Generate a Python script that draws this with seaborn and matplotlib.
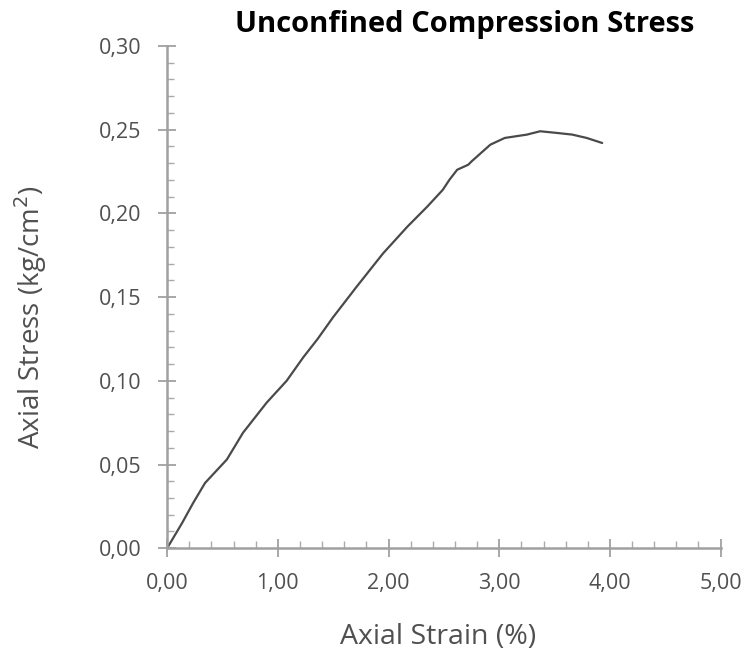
import numpy as np
import pandas as pd
import seaborn as sns
import matplotlib.pyplot as plt
from matplotlib.ticker import MultipleLocator, FuncFormatter

# Data
strain = [0.00, 0.135, 0.235, 0.343, 0.54, 0.686, 0.90, 1.08, 1.23, 1.36, 1.50,
          1.71, 1.95, 2.17, 2.35, 2.49, 2.55, 2.62, 2.72, 2.75, 2.92, 3.05, 3.25,
          3.37, 3.52, 3.66, 3.79, 3.93]
stress = [0.000, 0.015, 0.027, 0.039, 0.053, 0.069, 0.087, 0.100, 0.114, 0.125, 0.138,
          0.156, 0.176, 0.192, 0.204, 0.214, 0.220, 0.226, 0.229, 0.231, 0.241, 0.245, 0.247,
          0.249, 0.248, 0.247, 0.245, 0.242]

df = pd.DataFrame({"Axial Strain (%)": strain, "Axial Stress": stress})

sns.set_style("white")
plt.rcParams['font.family'] = ['Open Sans', 'DejaVu Sans']

fig = plt.figure(figsize=(7.46, 6.55), dpi=100)
ax = fig.add_axes([0.224, 0.163, 0.742, 0.767])

sns.lineplot(data=df, x="Axial Strain (%)", y="Axial Stress", ax=ax,
             color="#4a4a4a", linewidth=1.6, sort=False)

ax.set_xlim(0, 5)
ax.set_ylim(0, 0.30)
ax.xaxis.set_major_locator(MultipleLocator(1))
ax.xaxis.set_minor_locator(MultipleLocator(0.2))
ax.yaxis.set_major_locator(MultipleLocator(0.05))
ax.yaxis.set_minor_locator(MultipleLocator(0.01))

comma = lambda fmt: FuncFormatter(lambda v, p: format(v, fmt).replace('.', ','))
ax.xaxis.set_major_formatter(comma('.2f'))
ax.yaxis.set_major_formatter(comma('.2f'))

ax.tick_params(which='major', direction='inout', length=13, width=1.3,
               color='#a0a0a0', labelcolor='#505050', labelsize=15.5)
ax.tick_params(which='minor', direction='in', length=5, width=1,
               color='#aaaaaa')
ax.tick_params(axis='x', which='major', pad=11)
ax.tick_params(axis='y', which='major', pad=12)
ax.tick_params(axis='x', which='both', bottom=True)
ax.tick_params(axis='y', which='both', left=True)

for s in ['top', 'right']:
    ax.spines[s].set_visible(False)
for s in ['left', 'bottom']:
    ax.spines[s].set_color('#a0a0a0')
    ax.spines[s].set_linewidth(1.8)

ax.set_xlabel("Axial Strain (%)", fontsize=20.5, color='#505050', va='center')
ax.set_ylabel("Axial Stress (kg/cm$^2$)", fontsize=20, color='#505050', va='center')
ax.xaxis.set_label_coords(0.489, -0.176)
ax.yaxis.set_label_coords(-0.247, 0.46)

fig.text(0.623, 0.962, "Unconfined Compression Stress", ha='center', va='center',
         fontsize=21, fontweight='bold', color='black')

fig.savefig("out.png", dpi=100)
